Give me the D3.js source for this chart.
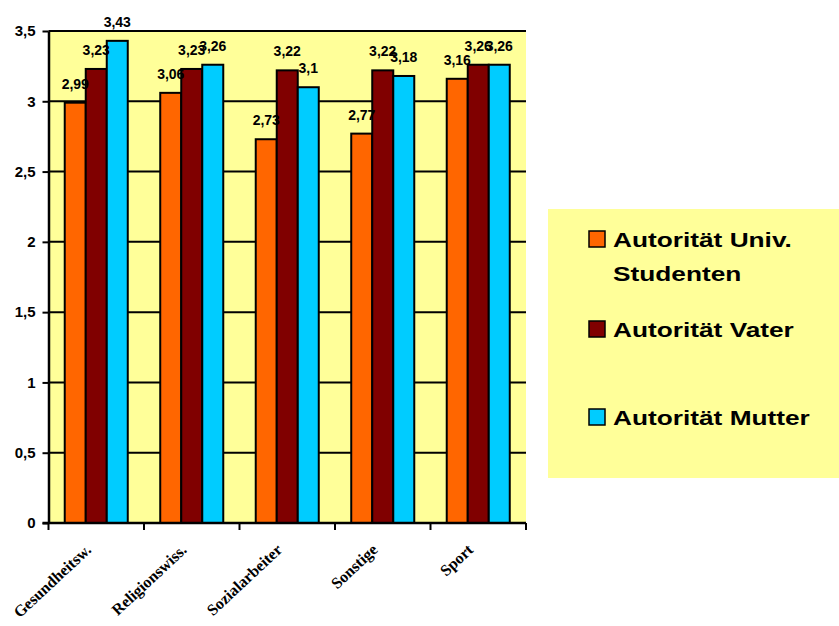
<!DOCTYPE html>
<html>
<head>
<meta charset="utf-8">
<script src="https://cdn.jsdelivr.net/npm/d3@7"></script>
<style>
  html, body { margin: 0; padding: 0; background: #ffffff; }
  svg { display: block; }
</style>
</head>
<body>
<svg id="chart" width="839" height="626"></svg>
<script>
// Fachrichtungen on the x axis
const categories = ["Gesundheitsw.", "Religionswiss.", "Sozialarbeiter", "Sonstige", "Sport"];
// Series names shown in the legend
const seriesNames = ["Autorität Univ. Studenten", "Autorität Vater", "Autorität Mutter"];
const seriesColors = ["#FF6600", "#800000", "#00CCFF"];
// Mean ratings per category
const studentenValues = [2.99, 3.06, 2.73, 2.77, 3.16];
const vaterValues     = [3.23, 3.23, 3.22, 3.22, 3.26];
const mutterValues    = [3.43, 3.26, 3.10, 3.18, 3.26];
// Y axis ticks
const yTicks = [0, 0.5, 1, 1.5, 2, 2.5, 3, 3.5];

const seriesValues = [studentenValues, vaterValues, mutterValues];
const fmt = v => String(v).replace(".", ",");

const svg = d3.select("#chart");
const plot = { left: 48.5, right: 526, top: 31, bottom: 523 };

const y = d3.scaleLinear().domain([0, 3.5]).range([plot.bottom, plot.top]);
const x = d3.scaleBand().domain(categories).range([plot.left, plot.right])
  .paddingInner(0.34).paddingOuter(0.17);
const xs = d3.scaleBand().domain(d3.range(seriesNames.length)).range([0, x.bandwidth()]);

// plot background
svg.append("rect")
  .attr("x", plot.left).attr("y", plot.top)
  .attr("width", plot.right - plot.left).attr("height", plot.bottom - plot.top)
  .attr("fill", "#FFFF99");

// horizontal gridlines
svg.append("g").selectAll("line").data(yTicks.filter(t => t > 0)).join("line")
  .attr("x1", plot.left).attr("x2", plot.right)
  .attr("y1", d => y(d)).attr("y2", d => y(d))
  .attr("stroke", "#000").attr("stroke-width", 2);

// bars
const groups = svg.append("g").selectAll("g").data(categories).join("g")
  .attr("transform", c => `translate(${x(c)},0)`);
groups.selectAll("rect")
  .data((c, i) => seriesValues.map((vals, s) => ({ s, v: vals[i] })))
  .join("rect")
  .attr("x", d => xs(d.s)).attr("width", xs.bandwidth())
  .attr("y", d => y(d.v)).attr("height", d => y(0) - y(d.v))
  .attr("fill", d => seriesColors[d.s])
  .attr("stroke", "#000").attr("stroke-width", 2);

// value labels
groups.selectAll("text")
  .data((c, i) => seriesValues.map((vals, s) => ({ s, v: vals[i] })))
  .join("text")
  .attr("x", d => xs(d.s) + xs.bandwidth() / 2)
  .attr("y", d => y(d.v) - 14)
  .attr("text-anchor", "middle")
  .attr("font-family", "Liberation Sans, Arial, sans-serif")
  .attr("font-weight", "bold").attr("font-size", 14)
  .text(d => fmt(d.v));

// y axis
const yAxis = svg.append("g")
  .attr("transform", `translate(${plot.left},0)`)
  .call(d3.axisLeft(y).tickValues(yTicks).tickFormat(fmt).tickSize(6).tickSizeOuter(0));
yAxis.select(".domain").attr("stroke", "#000").attr("stroke-width", 2.5);
yAxis.selectAll(".tick line").attr("stroke", "#000").attr("stroke-width", 2);
yAxis.selectAll(".tick text")
  .attr("x", -13)
  .attr("font-family", "Liberation Sans, Arial, sans-serif")
  .attr("font-weight", "bold").attr("font-size", 15).attr("fill", "#000");

// x axis with ticks at the category boundaries
const boundaries = categories.map(c => x(c) - x.step() * x.paddingInner() / 2);
boundaries.push(plot.right);
const xAxisG = svg.append("g");
xAxisG.append("line")
  .attr("x1", plot.left - 6).attr("x2", plot.right)
  .attr("y1", plot.bottom).attr("y2", plot.bottom)
  .attr("stroke", "#000").attr("stroke-width", 2.5);
xAxisG.selectAll("line.tick").data(boundaries).join("line")
  .attr("class", "tick")
  .attr("x1", d => d).attr("x2", d => d)
  .attr("y1", plot.bottom).attr("y2", plot.bottom + 7)
  .attr("stroke", "#000").attr("stroke-width", 2);
xAxisG.selectAll("text").data(categories).join("text")
  .attr("transform", c => `translate(${x(c) + x.bandwidth() / 2 - 4},${plot.bottom + 28}) rotate(-43)`)
  .attr("text-anchor", "end")
  .attr("font-family", "Liberation Serif, Times New Roman, serif")
  .attr("font-weight", "bold").attr("font-size", 16)
  .text(c => c);

// legend
const legend = svg.append("g");
legend.append("rect")
  .attr("x", 548).attr("y", 209).attr("width", 291).attr("height", 269)
  .attr("fill", "#FFFF99");
const legendRows = [
  { lines: ["Autorität Univ.", "Studenten"], base: 247 },
  { lines: ["Autorität Vater"], base: 337 },
  { lines: ["Autorität Mutter"], base: 425 }
];
legendRows.forEach((row, i) => {
  legend.append("rect")
    .attr("x", 589).attr("y", row.base - 16).attr("width", 16).attr("height", 16)
    .attr("fill", seriesColors[i]).attr("stroke", "#000").attr("stroke-width", 1.5);
  row.lines.forEach((line, j) => {
    legend.append("text")
      .attr("transform", `translate(613,${row.base + j * 34}) scale(1.25,1)`)
      .attr("font-family", "Liberation Sans, Arial, sans-serif")
      .attr("font-weight", "bold").attr("font-size", 21)
      .text(line);
  });
});
</script>
</body>
</html>
